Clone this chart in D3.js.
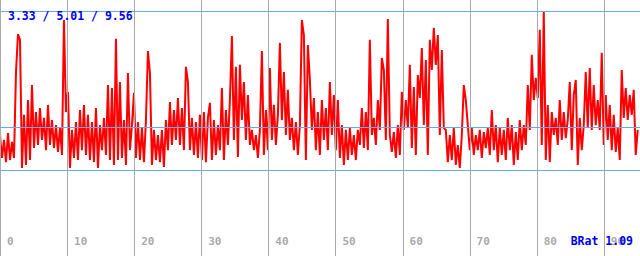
<!DOCTYPE html>
<html>
<head>
<meta charset="utf-8">
<script src="https://cdn.jsdelivr.net/npm/d3@7"></script>
<style>
  body { margin: 0; background: #fff; }
  svg { display: block; }
</style>
</head>
<body>
<div id="chart"></div>
<script>
// Stats shown on the chart
var minVal = 3.33,
	avgVal = 5.01,
	maxVal = 9.56;
var ratioLabel = "BRat 1.09";
var xTicks = [0, 10, 20, 30, 40, 50, 60, 70, 80, 90];
var sampleStep = 0.298; // x units between samples

// Series values
var values = [
	4.70, 3.80, 4.51, 3.64, 4.78, 3.72, 4.43, 3.80, 7.17, 8.66, 8.43, 3.41, 5.49, 3.53, 6.07, 3.72,
	6.66, 4.19, 5.60, 4.31, 5.76, 4.51, 5.37, 4.11, 5.88, 4.31, 5.29, 4.19, 5.09, 4.04, 4.98, 3.92,
	9.21, 5.60, 6.39, 3.41, 4.90, 3.80, 5.21, 3.72, 5.68, 4.11, 5.88, 3.92, 5.49, 3.72, 5.21, 3.64,
	5.76, 3.41, 5.09, 4.11, 5.37, 3.92, 6.66, 3.72, 6.54, 3.53, 8.47, 3.72, 6.78, 3.80, 5.29, 3.53,
	7.13, 4.11, 5.09, 6.35, 3.80, 5.21, 3.72, 4.98, 3.64, 5.29, 7.99, 7.13, 3.53, 4.90, 3.72, 4.70,
	3.64, 4.90, 3.45, 5.29, 4.11, 5.99, 4.31, 5.68, 4.51, 6.15, 4.31, 5.76, 4.11, 7.37, 6.78, 4.11,
	5.37, 3.92, 5.21, 3.80, 5.49, 3.72, 5.60, 3.64, 5.37, 5.96, 3.72, 5.29, 3.92, 5.09, 4.11, 6.54,
	3.72, 5.68, 4.31, 6.07, 8.58, 4.51, 7.37, 3.84, 7.45, 5.29, 6.78, 4.51, 6.27, 4.31, 4.90, 4.11,
	4.70, 3.80, 4.90, 7.99, 3.92, 5.68, 4.11, 7.33, 4.51, 5.88, 4.31, 5.49, 8.31, 5.29, 7.17, 4.70,
	6.47, 4.51, 5.37, 4.11, 5.21, 3.92, 5.09, 9.21, 8.62, 3.72, 8.23, 6.86, 4.90, 6.15, 4.11, 5.60,
	3.92, 6.07, 4.51, 5.76, 4.11, 6.78, 4.70, 6.27, 4.11, 6.07, 3.80, 5.09, 3.53, 4.90, 3.72, 4.98,
	3.92, 4.70, 3.72, 4.90, 4.31, 5.76, 4.19, 5.60, 4.11, 8.43, 4.70, 5.37, 4.31, 6.07, 4.90, 7.72,
	7.25, 4.51, 9.25, 4.70, 4.04, 4.82, 3.80, 5.09, 3.92, 6.39, 4.90, 6.07, 4.98, 7.45, 4.19, 6.58,
	3.92, 7.05, 6.15, 8.11, 5.09, 7.64, 3.92, 8.43, 7.25, 8.90, 7.45, 8.62, 4.70, 8.03, 4.98, 4.90,
	3.64, 4.70, 3.72, 4.98, 3.53, 4.31, 3.41, 4.70, 6.66, 6.07, 5.09, 4.11, 4.98, 3.92, 4.70, 4.11,
	4.90, 3.80, 4.82, 4.19, 4.98, 3.92, 5.68, 4.11, 5.09, 3.64, 4.98, 3.92, 4.90, 3.72, 5.37, 4.11,
	5.09, 3.53, 4.82, 3.72, 5.29, 4.11, 5.09, 4.31, 6.66, 4.90, 7.84, 6.07, 6.94, 6.15, 8.82, 4.31,
	9.52, 3.72, 5.88, 3.64, 5.60, 4.70, 5.37, 4.31, 6.07, 4.51, 5.60, 4.58, 5.29, 6.78, 4.11, 6.27,
	6.86, 3.53, 5.37, 4.11, 5.09, 7.17, 4.98, 7.33, 4.90, 6.66, 5.09, 6.07, 4.90, 7.92, 4.31, 6.27,
	4.51, 5.88, 4.11, 5.49, 4.04, 4.98, 3.72, 7.25, 5.37, 6.54, 5.29, 6.27, 5.49, 6.47, 3.92, 4.90
];

var width = 640,
	height = 256;

var x = d3.scaleLinear().domain([0, 95.4]).range([0, width]);
var y = d3.scaleLinear().domain([minVal, maxVal]).range([170, 11]);

var svg = d3
	.select("#chart")
	.append("svg")
	.attr("width", width)
	.attr("height", height);

// red trace
var line = d3
	.line()
	.x((d, i) => x(i * sampleStep))
	.y((d) => y(d));

svg
	.append("path")
	.datum(values)
	.attr("fill", "none")
	.attr("stroke", "#ff0000")
	.attr("stroke-width", 2)
	.attr("stroke-linejoin", "miter")
	.attr("stroke-miterlimit", 2)
	.attr("d", line);

// vertical grid + labels
var grid = svg.append("g").selectAll("g").data(xTicks).join("g");
grid
	.append("line")
	.attr("x1", (d) => Math.round(x(d)) + 0.5)
	.attr("x2", (d) => Math.round(x(d)) + 0.5)
	.attr("y1", 0)
	.attr("y2", height)
	.attr("stroke", "#aaaaaa")
	.attr("stroke-width", 1);
grid
	.append("text")
	.attr("x", (d) => x(d) + 7)
	.attr("y", 245)
	.attr("fill", "#aaaaaa")
	.style("font", "bold 11px 'DejaVu Sans Mono', monospace")
	.text((d) => d);

// min / avg / max lines
svg
	.append("g")
	.selectAll("line")
	.data([minVal, avgVal, maxVal])
	.join("line")
	.attr("x1", 0)
	.attr("x2", width)
	.attr("y1", (d) => Math.round(y(d)) + 0.5)
	.attr("y2", (d) => Math.round(y(d)) + 0.5)
	.attr("stroke", "#66aaee")
	.attr("stroke-width", 1);

svg
	.append("text")
	.attr("x", 8)
	.attr("y", 19.5)
	.attr("fill", "#0000ee")
	.style("font", "bold 11.5px 'DejaVu Sans Mono', monospace")
	.text(`${minVal.toFixed(2)} / ${avgVal.toFixed(2)} / ${maxVal.toFixed(2)}`);

svg
	.append("text")
	.attr("x", 633)
	.attr("y", 245)
	.attr("text-anchor", "end")
	.attr("fill", "#0000ee")
	.style("font", "bold 11.5px 'DejaVu Sans Mono', monospace")
	.text(ratioLabel);
</script>
</body>
</html>
